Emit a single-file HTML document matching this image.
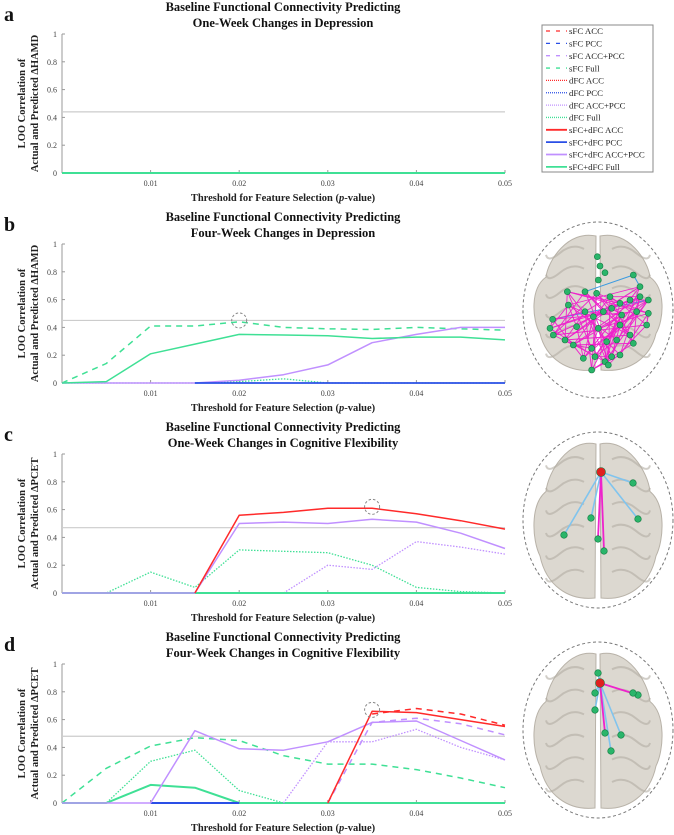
<!DOCTYPE html>
<html><head><meta charset="utf-8">
<style>
html,body{margin:0;padding:0;background:#fff;}
svg{display:block;font-family:"Liberation Serif",serif;}
</style></head>
<body>
<svg id="fig" width="674" height="835" viewBox="0 0 674 835" xmlns="http://www.w3.org/2000/svg"></svg>
<script>
// ---- data ----
const xValues = [0,0.005,0.01,0.015,0.02,0.025,0.03,0.035,0.04,0.045,0.05];
const xTickLabels = ["0.01","0.02","0.03","0.04","0.05"];
const xTickValues = [0.01,0.02,0.03,0.04,0.05];
const yTickValues = [0,0.2,0.4,0.6,0.8,1];
const yTickLabels = ["0","0.2","0.4","0.6","0.8","1"];
const legendLabels = ["sFC ACC","sFC PCC","sFC ACC+PCC","sFC Full","dFC ACC","dFC PCC","dFC ACC+PCC","dFC Full","sFC+dFC ACC","sFC+dFC PCC","sFC+dFC ACC+PCC","sFC+dFC Full"];
const thresholds = [0.44,0.45,0.47,0.48];

const a_sfcdfcFull = [0,0,0,0,0,0,0,0,0,0,0];

const b_sfcFull = [0,0.14,0.41,0.41,0.44,0.40,0.39,0.385,0.40,0.39,0.38];
const b_dfcFull = [0,0,0,0,0.01,0.03,0,0,0,0,0];
const b_sfcdfcPCC = [null,null,null,0,0,0,0,0,0,0,0];
const b_sfcdfcAccPcc = [0,0,0,0,0.02,0.06,0.13,0.29,0.35,0.40,0.40];
const b_sfcdfcFull = [0,0.01,0.21,0.28,0.35,0.345,0.34,0.32,0.33,0.33,0.31];

const c_dfcFull = [0,0,0.15,0.04,0.31,0.30,0.29,0.20,0.04,0.01,0];
const c_dfcAccPcc = [null,null,null,null,null,0,0.20,0.17,0.37,0.33,0.28];
const c_sfcdfcFull = [0,0,0,0,0,0,0,0,0,0,0];
const c_sfcdfcAccPcc = [0,0,0,0,0.50,0.51,0.50,0.53,0.51,0.43,0.32];
const c_sfcdfcACC = [null,null,null,0,0.56,0.58,0.61,0.61,0.57,0.52,0.46];

const d_sfcFull = [0,0.25,0.41,0.47,0.45,0.34,0.28,0.28,0.24,0.18,0.11];
const d_dfcFull = [0,0,0.30,0.38,0.09,0,0,0,0,0,0];
const d_sfcdfcFull = [0,0,0.13,0.11,0,0,0,0,0,0,0];
const d_sfcdfcPCC = [null,null,0,0,0,null,null,null,null,null,null];
const d_dfcAccPcc = [null,null,null,null,null,0,0.44,0.44,0.53,0.40,0.31];
const d_sfcAccPcc = [null,null,null,null,null,null,0,0.58,0.61,0.57,0.49];
const d_sfcdfcAccPcc = [0,0,0,0.52,0.39,0.38,0.44,0.58,0.59,0.45,0.31];
const d_sfcACC = [null,null,null,null,null,null,null,0.64,0.68,0.64,0.56];
const d_sfcdfcACC = [null,null,null,null,null,null,0,0.66,0.65,0.60,0.55];

const circles = [null,[0.02,0.45],[0.035,0.62],[0.035,0.67]];

// ---- rendering ----
const NS="http://www.w3.org/2000/svg";
const svg=document.getElementById('fig');
function mk(tag,attrs,parent){const e=document.createElementNS(NS,tag);for(const k in attrs)e.setAttribute(k,attrs[k]);(parent||svg).appendChild(e);return e;}
const RED="#ff2a2a",BLUE="#2a4fe6",PURPLE="#c090ff",GREEN="#3fe095";
const STY={dash:"6,5",dot:"1.5,1.5",solid:null};

const panels=[
 {letter:"a",t1:"Baseline Functional Connectivity Predicting",t2:"One-Week Changes in Depression",y0:173,y1:34,ty:7,meas:"ΔHAMD",series:[[a_sfcdfcFull,GREEN,"solid",2,"a-sfc-dfc-full"]]},
 {letter:"b",t1:"Baseline Functional Connectivity Predicting",t2:"Four-Week Changes in Depression",y0:383,y1:244,ty:217,meas:"ΔHAMD",series:[[b_sfcFull,GREEN,"dash",1.5,"b-sfc-full"],[b_dfcFull,GREEN,"dot",1.3,"b-dfc-full"],[b_sfcdfcAccPcc,PURPLE,"solid",1.5,"b-sfc-dfc-acc-pcc"],[b_sfcdfcPCC,BLUE,"solid",1.8,"b-sfc-dfc-pcc"],[b_sfcdfcFull,GREEN,"solid",1.5,"b-sfc-dfc-full"]]},
 {letter:"c",t1:"Baseline Functional Connectivity Predicting",t2:"One-Week Changes in Cognitive Flexibility",y0:593,y1:454,ty:427,meas:"ΔPCET",series:[[c_dfcFull,GREEN,"dot",1.3,"c-dfc-full"],[c_dfcAccPcc,PURPLE,"dot",1.3,"c-dfc-acc-pcc"],[c_sfcdfcFull,GREEN,"solid",2,"c-sfc-dfc-full"],[c_sfcdfcAccPcc,PURPLE,"solid",1.5,"c-sfc-dfc-acc-pcc"],[c_sfcdfcACC,RED,"solid",1.5,"c-sfc-dfc-acc"]]},
 {letter:"d",t1:"Baseline Functional Connectivity Predicting",t2:"Four-Week Changes in Cognitive Flexibility",y0:803,y1:664,ty:637,meas:"ΔPCET",series:[[d_sfcFull,GREEN,"dash",1.5,"d-sfc-full"],[d_dfcFull,GREEN,"dot",1.3,"d-dfc-full"],[d_sfcdfcFull,GREEN,"solid",2,"d-sfc-dfc-full"],[d_sfcdfcPCC,BLUE,"solid",2,"d-sfc-dfc-pcc"],[d_dfcAccPcc,PURPLE,"dot",1.3,"d-dfc-acc-pcc"],[d_sfcAccPcc,PURPLE,"dash",1.5,"d-sfc-acc-pcc"],[d_sfcdfcAccPcc,PURPLE,"solid",1.5,"d-sfc-dfc-acc-pcc"],[d_sfcACC,RED,"dash",1.5,"d-sfc-acc"],[d_sfcdfcACC,RED,"solid",1.5,"d-sfc-dfc-acc"]]}
];
const X0=62,X1=505,XMAX=0.05;
function xs(v){return X0+v/XMAX*(X1-X0);}

panels.forEach((p,pi)=>{
 const g=mk('g',{});
 
 
 const ys=v=>p.y0-v*(p.y0-p.y1);
 let t=mk('text',{x:4,y:p.ty+14,'font-size':20,'font-weight':'bold',fill:'#111'},g);t.textContent=p.letter;
 
 t=mk('text',{x:283,y:p.ty+4,'font-size':12.5,'font-weight':'bold','text-anchor':'middle',fill:'#111'},g);t.textContent=p.t1;
 
 t=mk('text',{x:283,y:p.ty+20,'font-size':12.5,'font-weight':'bold','text-anchor':'middle',fill:'#111'},g);t.textContent=p.t2;
 
 let ax=mk('line',{x1:X0,y1:p.y1,x2:X0,y2:p.y0,stroke:'#999','stroke-width':1},g);
 
 ax=mk('line',{x1:X0,y1:p.y0,x2:X1,y2:p.y0,stroke:'#999','stroke-width':1},g);
 
 yTickValues.forEach((v,i)=>{
  const tk=mk('line',{x1:X0,y1:ys(v),x2:X0+3,y2:ys(v),stroke:'#999'},g);
  
  const l=mk('text',{x:X0-5,y:ys(v)+3,'font-size':8,'text-anchor':'end',fill:'#444'},g);l.textContent=yTickLabels[i];
  
 });
 xTickValues.forEach((v,i)=>{
  const tk=mk('line',{x1:xs(v),y1:p.y0,x2:xs(v),y2:p.y0-3,stroke:'#999'},g);
  
  const l=mk('text',{x:xs(v),y:p.y0+13,'font-size':8,'text-anchor':'middle',fill:'#444'},g);l.textContent=xTickLabels[i];
  
 });
 const xt=mk('text',{x:283,y:p.y0+28,'font-size':10.5,'font-weight':'bold','text-anchor':'middle',fill:'#222'},g);
 xt.innerHTML='Threshold for Feature Selection (<tspan font-style="italic">p</tspan>-value)';
 
 const cy=(p.y0+p.y1)/2;
 let yt=mk('text',{x:0,y:0,'font-size':10.5,'font-weight':'bold','text-anchor':'middle',fill:'#222',transform:`translate(25,${cy}) rotate(-90)`},g);
 yt.textContent='LOO Correlation of';
 
 yt=mk('text',{x:0,y:0,'font-size':10.5,'font-weight':'bold','text-anchor':'middle',fill:'#222',transform:`translate(38,${cy}) rotate(-90)`},g);
 yt.textContent='Actual and Predicted '+p.meas;
 
 const th=mk('line',{x1:X0,y1:ys(thresholds[pi]),x2:X1,y2:ys(thresholds[pi]),stroke:'#ccc','stroke-width':1.2},g);
 
 p.series.forEach(s=>{
  const [vals,col,sty,w,name]=s;
  let d='',pen=false;
  vals.forEach((v,i)=>{
   if(v===null){pen=false;return;}
   d+=(pen?'L':'M')+xs(xValues[i]).toFixed(1)+','+ys(v).toFixed(1);pen=true;
  });
  const at={d:d,fill:'none',stroke:col,'stroke-width':w,'stroke-linejoin':'round'};
  if(STY[sty])at['stroke-dasharray']=STY[sty];
  const pa=mk('path',at,g);
  
 });
 if(circles[pi]){
  const c=mk('circle',{cx:xs(circles[pi][0]),cy:ys(circles[pi][1]),r:7.5,fill:'none',stroke:'#888','stroke-width':1,'stroke-dasharray':'2.5,2'},g);
  
 }
});

// legend
const lg=mk('g',{});

mk('rect',{x:542,y:25,width:111,height:147,fill:'#fff',stroke:'#888','stroke-width':1},lg);
const legCol=[RED,BLUE,PURPLE,GREEN];
legendLabels.forEach((lab,i)=>{
 const y=31+i*12.35;
 const col=legCol[i%4];const sty=["dash","dot","solid"][Math.floor(i/4)];
 const at={x1:546,y1:y,x2:567,y2:y,stroke:col,'stroke-width':sty==="solid"?1.8:1.3};
 if(sty==="dash")at['stroke-dasharray']="4,6";
 if(sty==="dot")at['stroke-dasharray']="1,1";
 const ln=mk('line',at,lg);
 
 const t=mk('text',{x:569,y:y+3.2,'font-size':8.8,fill:'#222'},lg);t.textContent=lab;
 
});

// brains
function brain(cx,cy,top,bot,name){
 const g=mk('g',{});
 
 mk('ellipse',{cx:cx,cy:cy,rx:75,ry:88,fill:'none',stroke:'#777','stroke-width':1,'stroke-dasharray':'3,2.5'},g);
 const h=(bot-top);
 [-1,1].forEach(sd=>{
  const x=cx+sd*32;
  mk('path',{d:`M${cx+sd*2},${top+4} C${cx+sd*30},${top-2} ${cx+sd*50},${top+h*0.2} ${cx+sd*52},${top+h*0.32} C${cx+sd*68},${top+h*0.4} ${cx+sd*66},${top+h*0.62} ${cx+sd*58},${top+h*0.72} C${cx+sd*52},${top+h*0.9} ${cx+sd*30},${bot} ${cx+sd*3},${bot-3} Z`,fill:'#dcd8d0',stroke:'#b8b2a8','stroke-width':1},g);
  for(let k=0;k<6;k++){
   mk('path',{d:`M${x-sd*18},${top+h*(0.12+k*0.14)} q${sd*12},${-6} ${sd*24},${4} t${sd*14},${2}`,fill:'none',stroke:'#b3ada3','stroke-width':2,opacity:0.6},g);
  }
 });
 return g;
}
const gb=brain(598,310,232,373,'brain-network-b');
const gc=brain(598,520,440,601,'brain-network-c');
const gd=brain(598,730,650,811,'brain-network-d');

function node(g,x,y,col,r){const c=mk('circle',{cx:x,cy:y,r:r||3.3,fill:col||'#2ab56a',stroke:'#127a40','stroke-width':0.6},g);}
function edge(g,x1,y1,x2,y2,col,w){const l=mk('line',{x1,y1,x2,y2,stroke:col,'stroke-width':w||1.8},g);}
const MAG="#ee22cc",LB="#80c4ee";
const bz=[[172,80],[180,108],[195,128],[175,150],[280,135],[300,170],[82,185],[135,185],[170,190],[210,200],[240,220],[270,210],[300,200],[325,210],[85,225],[135,245],[160,260],[190,245],[215,235],[245,255],[290,245],[325,250],[38,268],[30,295],[40,315],[110,290],[175,295],[240,285],[270,315],[320,285],[75,330],[100,345],[155,355],[200,335],[230,330],[280,340],[130,385],[165,380],[195,395],[215,380],[240,375],[155,420],[205,405]];
const bn=bz.map(p=>[540+p[0]/3,230+p[1]/3]);
const nB=bn.length;
edge(gb,bn[4][0],bn[4][1],bn[5][0],bn[5][1],'#3a9ae0',1);
edge(gb,bn[4][0],bn[4][1],bn[7][0],bn[7][1],'#3a9ae0',1);
edge(gb,bn[22][0],bn[22][1],bn[13][0],bn[13][1],'#3a9ae0',1);
for(let i=0;i<nB;i++){for(let k=1;k<=3;k++){const j=(i*7+k*11)%nB;if(j!==i&&bn[i][1]>285&&bn[j][1]>285)edge(gb,bn[i][0],bn[i][1],bn[j][0],bn[j][1],MAG,0.9);}}
bn.forEach(p=>node(gb,p[0],p[1],null,3));
const cr=[601,472];
[[633,483],[638,519],[591,518],[564,535]].forEach(p=>edge(gc,cr[0],cr[1],p[0],p[1],LB,1.6));
[[598,539],[604,551]].forEach(p=>edge(gc,cr[0],cr[1],p[0],p[1],MAG,1.8));
[[633,483],[638,519],[591,518],[564,535],[598,539],[604,551]].forEach(p=>node(gc,p[0],p[1]));
node(gc,cr[0],cr[1],'#e02020',4.5);
const dr=[600,683];
[[598,673],[595,693],[595,710],[621,735],[611,751]].forEach(p=>edge(gd,dr[0],dr[1],p[0],p[1],LB,1.6));
[[638,695],[605,733]].forEach(p=>edge(gd,dr[0],dr[1],p[0],p[1],MAG,1.8));
[[598,673],[595,693],[595,710],[638,695],[633,693],[605,733],[621,735],[611,751]].forEach(p=>node(gd,p[0],p[1]));
node(gd,dr[0],dr[1],'#e02020',4.5);
</script>
</body></html>
